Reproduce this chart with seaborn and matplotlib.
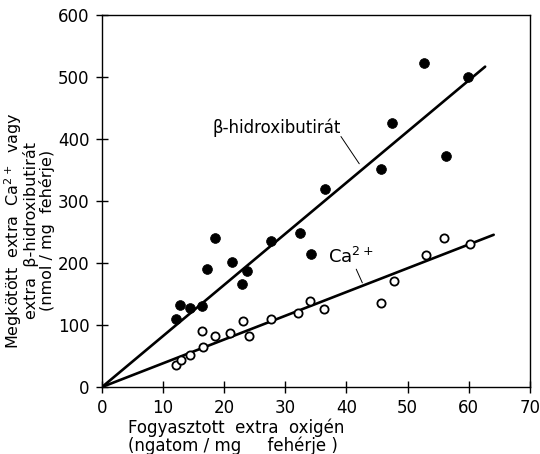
import numpy as np
import pandas as pd
import seaborn as sns
import matplotlib.pyplot as plt

# Mérési pontok (leolvasva az ábráról)
hb_x = [12.1, 12.7, 14.4, 16.3, 17.1, 18.5, 21.2, 22.9, 23.8, 27.7,
        32.4, 34.2, 36.5, 45.6, 47.5, 52.7, 56.3, 59.9]
hb_y = [109, 132, 127, 131, 190, 240, 202, 166, 187, 235,
        248, 214, 319, 351, 425, 522, 373, 500]

ca_x = [12.1, 13.0, 14.4, 16.3, 16.6, 18.5, 21.0, 23.1, 24.0, 27.6,
        32.1, 34.1, 36.4, 45.7, 47.8, 53.0, 56.0, 60.3]
ca_y = [35, 44, 52, 90, 64, 83, 87, 107, 82, 110,
        119, 139, 126, 136, 171, 213, 240, 231]

# Illesztett egyenesek (meredekség, végpont)
hb_slope = 8.24
hb_xend = 62.7
ca_slope = 3.83
ca_xend = 64.1

x_ticks = [0, 10, 20, 30, 40, 50, 60, 70]
y_ticks = [0, 100, 200, 300, 400, 500, 600]

sns.set_style("ticks")
plt.rcParams['font.family'] = ['DejaVu Sans']
plt.rcParams['text.color'] = 'black'
plt.rcParams['axes.labelcolor'] = 'black'
plt.rcParams['xtick.color'] = 'black'
plt.rcParams['ytick.color'] = 'black'
plt.rcParams['axes.edgecolor'] = 'black'

fig = plt.figure(figsize=(5.4, 4.54), dpi=100)
ax = fig.add_axes([0.189, 0.1476, 0.792, 0.8194])

df_hb = pd.DataFrame({'x': hb_x, 'y': hb_y})
df_ca = pd.DataFrame({'x': ca_x, 'y': ca_y})
fit_hb = pd.DataFrame({'x': [0, hb_xend], 'y': [0, hb_slope * hb_xend]})
fit_ca = pd.DataFrame({'x': [0, ca_xend], 'y': [0, ca_slope * ca_xend]})

sns.lineplot(data=fit_hb, x='x', y='y', color='black', lw=1.9, ax=ax)
sns.lineplot(data=fit_ca, x='x', y='y', color='black', lw=1.9, ax=ax)
sns.scatterplot(data=df_hb, x='x', y='y', color='black', s=50,
                edgecolor='black', linewidth=0.5, zorder=3, ax=ax)
sns.scatterplot(data=df_ca, x='x', y='y', facecolor='white', s=35,
                edgecolor='black', linewidth=1.3, zorder=3, ax=ax)

# Feliratok és vezetővonalak
ax.text(18.1, 418, 'β-hidroxibutirát', fontsize=12, va='center', ha='left')
ax.plot([39.1, 42.1], [404, 360], color='black', lw=0.7)
ax.text(37.0, 209, 'Ca$^{2+}$', fontsize=13, va='center', ha='left')
ax.plot([41.6, 42.6], [190, 168], color='black', lw=0.7)

ax.set_xlim(0, 70)
ax.set_ylim(0, 600)
ax.set_xticks(x_ticks)
ax.set_yticks(y_ticks)
ax.tick_params(direction='inout', length=8, width=1, labelsize=12, pad=5)
for side in ['top', 'right', 'left', 'bottom']:
    ax.spines[side].set_visible(True)
    ax.spines[side].set_linewidth(1.0)

ax.set_xlabel('Fogyasztott  extra  oxigén\n(ngatom / mg     fehérje )',
              fontsize=12, linespacing=0.95)
ax.xaxis.label.set_ha('left')
ax.xaxis.set_label_coords(0.061, -0.085)

ax.set_ylabel('Megkötött  extra  Ca$^{2+}$  vagy\nextra  β-hidroxibutirát\n(nmol / mg  fehérje)',
              fontsize=11.5, linespacing=0.95, multialignment='center')
ax.yaxis.label.set_va('center')
ax.yaxis.set_label_coords(-0.172, 0.42)

plt.savefig('out.png', dpi=100)
